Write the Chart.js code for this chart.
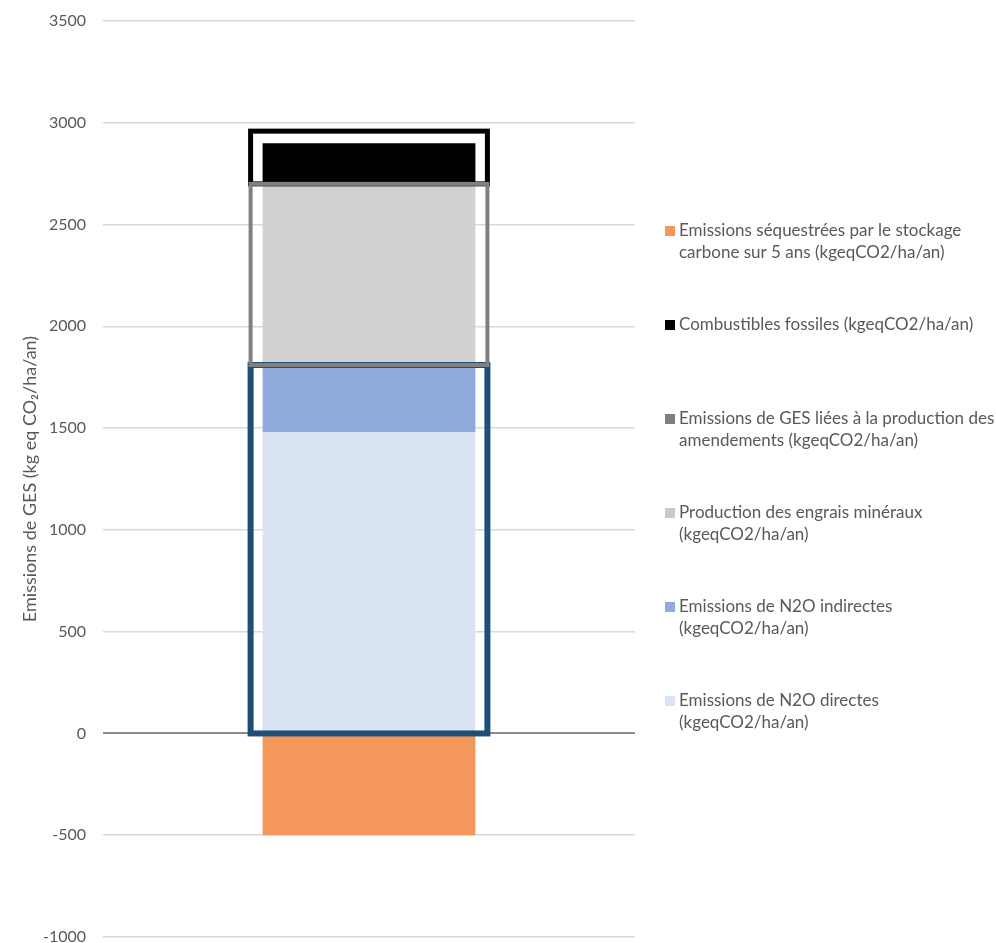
<!DOCTYPE html>
<html>
<head>
<meta charset="utf-8">
<script src="https://cdn.jsdelivr.net/npm/chart.js"></script>
<style>
  html, body { margin: 0; padding: 0; background: #fff; overflow: hidden; }
  #wrap { width: 996px; height: 943px; position: relative; }
</style>
</head>
<body>
<div id="wrap"><canvas id="myChart"></canvas></div>
<script>
// categories / values (kgeqCO2/ha/an)
var categories = [''];
var seriesNames = [
  ['Emissions de N2O directes', '(kgeqCO2/ha/an)'],
  ['Emissions de N2O indirectes', '(kgeqCO2/ha/an)'],
  ['Emissions de GES liées à la production des', 'amendements (kgeqCO2/ha/an)'],
  ['Production des engrais minéraux', '(kgeqCO2/ha/an)'],
  ['Combustibles fossiles (kgeqCO2/ha/an)'],
  ['Emissions séquestrées par le stockage', 'carbone sur 5 ans (kgeqCO2/ha/an)']
];
var directes = [1480];
var indirectes = [330];
var amendements = [0];
var engrais = [890];
var fossiles = [200];
var sequestrees = [-500];
var yTicks = [-1000, -500, 0, 500, 1000, 1500, 2000, 2500, 3000, 3500];

var fills = ['#DAE3F3', '#8FAADC', '#7F7F7F', '#D3D0D0', '#000000', '#F4975A'];
var legendFills = ['#DAE3F3', '#8FAADC', '#7F7F7F', '#C9C9C9', '#000000', '#F4975A'];
var values = [directes, indirectes, amendements, engrais, fossiles, sequestrees];

// outline boxes around groups of stacked series
var groups = [
  { sets: [0, 1], color: '#1F4E79', width: 6, extraTop: 0 },
  { sets: [2, 3], color: '#808080', width: 4, extraTop: 0 },
  { sets: [4], color: '#000000', width: 5, extraTop: 12 }
];
var drawOrder = [2, 0, 1];

var datasets = values.map(function (v, i) {
  return {
    label: seriesNames[i],
    data: v,
    backgroundColor: fills[i],
    borderWidth: 0,
    barPercentage: 0.8,
    categoryPercentage: 0.5
  };
});

var txt = '#595959';
var fontFam = 'Lato, "Open Sans", sans-serif';

var boxPlugin = {
  id: 'boxes',
  afterDatasetsDraw: function (chart) {
    var ctx = chart.ctx, y = chart.scales.y;
    var bar = chart.getDatasetMeta(0).data[0];
    var pad = 12;
    var left = bar.x - bar.width / 2 - pad, right = bar.x + bar.width / 2 + pad;
    var base = 0, rects = [];
    groups.forEach(function (g) {
      var sum = 0;
      g.sets.forEach(function (s) { sum += values[s][0]; });
      rects.push({ yb: y.getPixelForValue(base), yt: y.getPixelForValue(base + sum) - g.extraTop, g: g });
      base += sum;
    });
    ctx.save();
    drawOrder.forEach(function (k) {
      var r = rects[k];
      ctx.strokeStyle = r.g.color;
      ctx.lineWidth = r.g.width;
      ctx.strokeRect(left, r.yt, right - left, r.yb - r.yt);
    });
    ctx.restore();
  }
};

var legendPlugin = {
  id: 'sideLegend',
  afterDraw: function (chart) {
    var ctx = chart.ctx;
    var x0 = 665, firstY = 231, step = 94, lh = 22;
    ctx.save();
    ctx.font = '17px ' + fontFam;
    ctx.textBaseline = 'middle';
    var order = [5, 4, 2, 3, 1, 0];
    order.forEach(function (di, k) {
      var yy = firstY + k * step;
      ctx.fillStyle = legendFills[di];
      ctx.fillRect(x0, yy - 5, 10, 10);
      ctx.fillStyle = txt;
      seriesNames[di].forEach(function (line, j) {
        ctx.fillText(line, x0 + 14, yy + j * lh);
      });
    });
    ctx.restore();
  }
};

new Chart(document.getElementById('myChart'), {
  type: 'bar',
  data: { labels: categories, datasets: datasets },
  options: {
    responsive: true,
    maintainAspectRatio: false,
    animation: false,
    layout: { padding: { top: 21, right: 361, bottom: 6, left: 15 } },
    plugins: { legend: { display: false }, tooltip: { enabled: false } },
    scales: {
      x: { stacked: true, display: false },
      y: {
        stacked: true,
        min: -1000,
        max: 3500,
        afterBuildTicks: function (axis) {
          axis.ticks = yTicks.map(function (v) { return { value: v }; });
        },
        afterFit: function (axis) {
          axis.width = 88;
          axis.paddingTop = 0;
          axis.paddingBottom = 0;
        },
        border: { display: false },
        grid: {
          color: function (c) { return c.tick && c.tick.value === 0 ? '#8C8C8C' : '#D9D9D9'; },
          lineWidth: function (c) { return c.tick && c.tick.value === 0 ? 2 : 1.5; },
          drawTicks: false
        },
        ticks: {
          color: txt,
          font: { size: 16, family: fontFam },
          padding: 17,
          callback: function (v) { return String(v); }
        },
        title: {
          display: true,
          text: 'Emissions de GES (kg eq CO₂/ha/an)',
          color: txt,
          font: { size: 18, family: fontFam },
          padding: { top: 4, bottom: 0 }
        }
      }
    }
  },
  plugins: [boxPlugin, legendPlugin]
});
</script>
</body>
</html>
